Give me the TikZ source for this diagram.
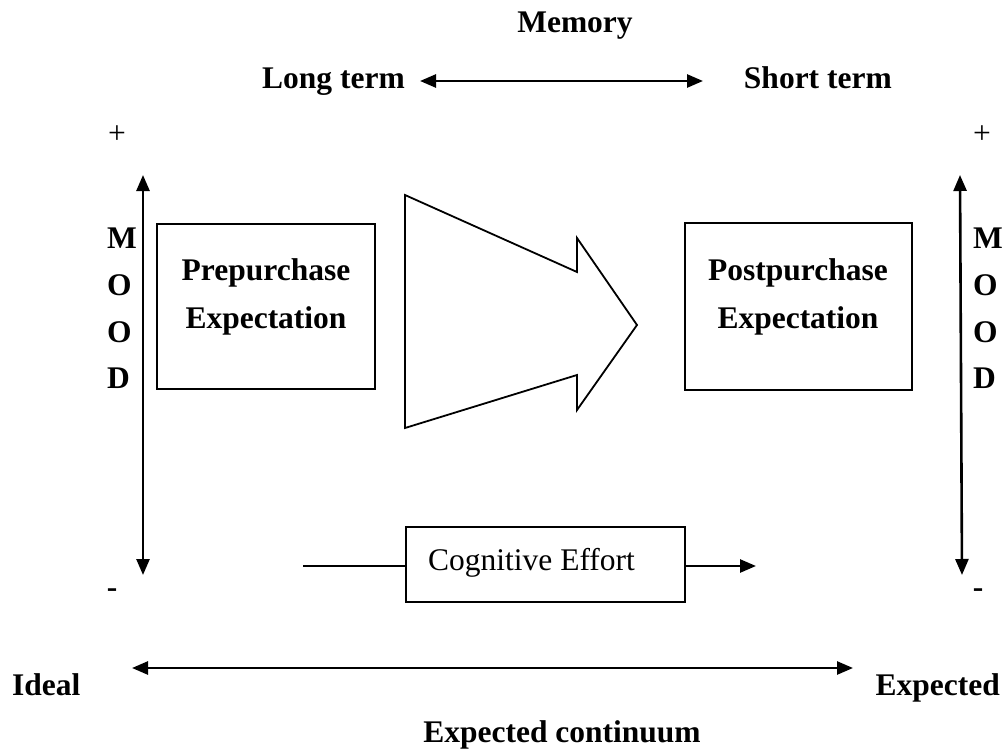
\documentclass[tikz,border=0pt]{standalone}
\usepackage{fontspec}
\setmainfont{Liberation Serif}
\usetikzlibrary{arrows.meta}
\begin{document}
\begin{tikzpicture}[x=1pt,y=-1pt,
  font=\fontsize{31.5}{36}\selectfont,
  lbl/.style={font=\fontsize{31.5}{36}\selectfont\bfseries, inner sep=0pt},
  plain/.style={font=\fontsize{31.5}{36}\selectfont, inner sep=0pt},
  box/.style={draw, line width=1.8pt, inner sep=0pt},
  tip/.style={Triangle[length=16pt,width=13pt]},
  dbl/.style={line width=2.6pt, {Triangle[length=16pt,width=13pt]}-{Triangle[length=16pt,width=13pt]}},
  fwd/.style={line width=2.6pt, -{Triangle[length=16pt,width=13pt]}}]
\useasboundingbox (0,0) rectangle (1007,749);

% header: memory scale
\node[lbl, anchor=base] (mem) at (575,33) {Memory};
\node[lbl, anchor=base west] (lt) at (262,89) {Long term};
\node[lbl, anchor=base east] (st) at (892,89) {Short term};
\coordinate (memL) at (420,81);
\coordinate (memR) at (703,81);
\draw[dbl] (memL) -- (memR);

% left mood axis
\node[plain, anchor=center] (lplus) at (117,135) {+};
\node[lbl, anchor=center] (lminus) at (112,593) {-};
\coordinate (lTop) at (143,175);
\coordinate (lBot) at (143,575);
\draw[dbl] (lTop) -- (lBot);
\node[lbl, anchor=base west] (lm) at (107,248) {M};
\node[lbl, anchor=base west] (lo1) at (107,295) {O};
\node[lbl, anchor=base west] (lo2) at (107,342) {O};
\node[lbl, anchor=base west] (ld) at (107,388) {D};

% right mood axis
\node[plain, anchor=center] (rplus) at (982,135) {+};
\node[lbl, anchor=center] (rminus) at (978,593) {-};
\coordinate (rTop) at (960,175);
\coordinate (rBot) at (962,575);
\draw[dbl] (rTop) -- (rBot);
\node[lbl, anchor=base west] (rm) at (973,248) {M};
\node[lbl, anchor=base west] (ro1) at (973,295) {O};
\node[lbl, anchor=base west] (ro2) at (973,342) {O};
\node[lbl, anchor=base west] (rd) at (973,388) {D};

% expectation boxes
\node[box, minimum width=218pt, minimum height=165pt] (pre) at (266,306.5) {};
\node[lbl, anchor=base] (preA) at (266,280) {Prepurchase};
\node[lbl, anchor=base] (preB) at (266,328) {Expectation};
\node[box, minimum width=227pt, minimum height=167pt] (post) at (798.5,306.5) {};
\node[lbl, anchor=base] (postA) at (798,280) {Postpurchase};
\node[lbl, anchor=base] (postB) at (798,328) {Expectation};

% block arrow between the boxes
\draw[line width=1.8pt, line join=miter]
  (405,195) -- (577,272) -- (577,238) -- (637,325) -- (577,410)
  -- (577,375) -- (405,428) -- cycle;

% cognitive effort
\node[box, minimum width=279pt, minimum height=75pt] (ce) at (545.5,564.5) {};
\node[plain, anchor=base] (ceT) at (531.5,570) {Cognitive Effort};
\coordinate (cin) at (303,566);
\coordinate (cout) at (756,566);
\draw[line width=1.6pt] (cin) -- (cin -| ce.west);
\draw[fwd] (ce.east |- cout) -- (cout);

% expected continuum
\node[lbl, anchor=base west] (ideal) at (12,695) {Ideal};
\node[lbl, anchor=base east] (exp) at (1000,695) {Expected};
\coordinate (eL) at (132,668);
\coordinate (eR) at (853,668);
\draw[dbl] (eL) -- (eR);
\node[lbl, anchor=base] (cont) at (562,742) {Expected continuum};
\end{tikzpicture}
\end{document}
